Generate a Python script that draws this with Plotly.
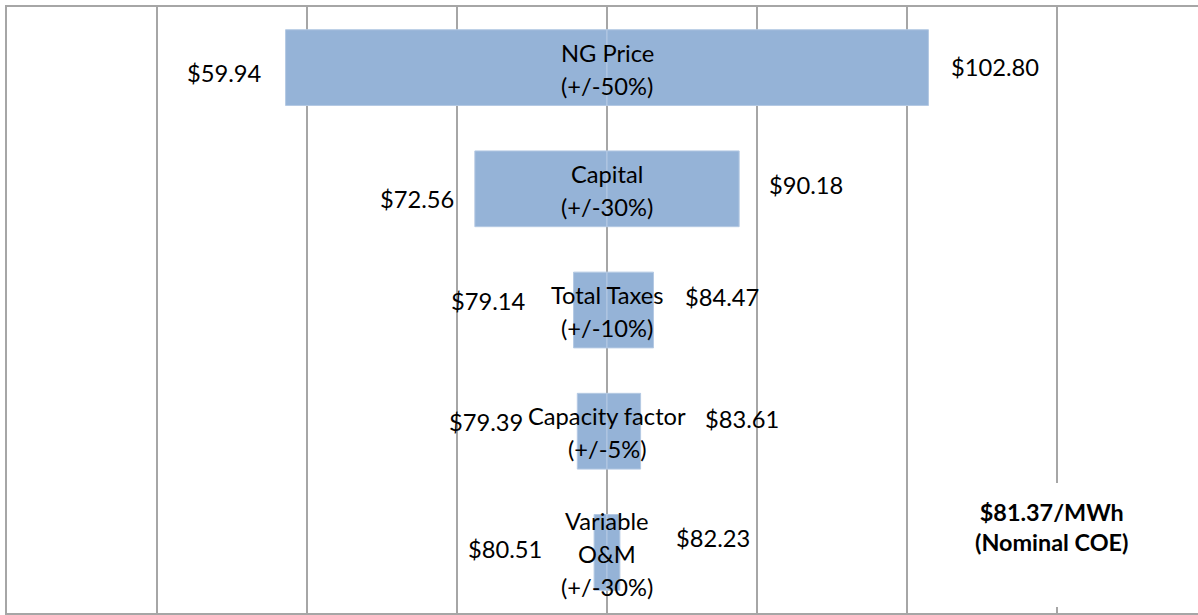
import plotly.graph_objects as go

# Sensitivity of nominal cost of electricity ($/MWh) to key inputs
base_coe = 81.37
drivers = ["NG Price", "Capital", "Total Taxes", "Capacity factor", "Variable<br>O&M"]
ranges = ["(+/-50%)", "(+/-30%)", "(+/-10%)", "(+/-5%)", "(+/-30%)"]
low_values = [59.94, 72.56, 79.14, 79.39, 80.51]
high_values = [102.80, 90.18, 84.47, 83.61, 82.23]

# label nudges in pixels: horizontal gap from the bar end, downward offset
low_gap = [22, 19, 46, 52, 50]
high_gap = [21, 28, 29, 62, 54]
low_down = [7, 12, -7.5, -7.5, -1.5]
high_down = [1, -2.5, -12, -10.5, -13]

bar_color = "#95B3D7"
edge_color = "#B4C9E3"
grid_color = "#A6A6A6"
font_family = "Lato, Carlito, Calibri, sans-serif"
label_size = 23.7
line_step = 33
name_down = 3

ypos = list(range(len(drivers)))

fig = go.Figure()
fig.add_trace(go.Bar(
    y=ypos, x=[base_coe - v for v in low_values], base=low_values,
    orientation="h", width=0.625, marker=dict(color=bar_color, line=dict(color=edge_color, width=1)),
    hoverinfo="skip", showlegend=False,
))
fig.add_trace(go.Bar(
    y=ypos, x=[v - base_coe for v in high_values], base=[base_coe] * len(drivers),
    orientation="h", width=0.625, marker=dict(color=bar_color, line=dict(color=edge_color, width=1)),
    hoverinfo="skip", showlegend=False,
))

label_font = dict(family=font_family, size=label_size, color="#000000")
annotations = []
for i in ypos:
    annotations.append(dict(
        x=low_values[i], y=i, text=f"${low_values[i]:.2f}", showarrow=False,
        xanchor="right", yanchor="middle", xshift=-low_gap[i], yshift=-(low_down[i] - 1.5),
        font=label_font,
    ))
    annotations.append(dict(
        x=high_values[i], y=i, text=f"${high_values[i]:.2f}", showarrow=False,
        xanchor="left", yanchor="middle", xshift=high_gap[i], yshift=-(high_down[i] - 1.5),
        font=label_font,
    ))
    # driver name and its range, one line at a time, centred on the base value
    lines = drivers[i].split("<br>") + [ranges[i]]
    n = len(lines)
    for k, line in enumerate(lines):
        offset = (k - (n - 1) / 2) * line_step + name_down
        annotations.append(dict(
            x=base_coe, y=i, text=line, showarrow=False,
            xanchor="center", yanchor="middle", yshift=-(offset - 1.5),
            font=label_font,
        ))

annotations.append(dict(
    xref="paper", yref="paper", x=0.8778, y=0.142,
    text=f"<b>${base_coe:.2f}/MWh</b><br><b>(Nominal COE)</b>", showarrow=False,
    xanchor="center", yanchor="middle",
    font=dict(family=font_family, size=23.4, color="#000000"),
))

fig.update_layout(
    width=1198, height=615,
    margin=dict(l=7, r=0, t=7, b=2),
    paper_bgcolor="#FFFFFF", plot_bgcolor="#FFFFFF",
    barmode="overlay",
    annotations=annotations,
    shapes=[dict(
        type="rect", xref="paper", yref="paper", x0=0.80, x1=0.951, y0=0.0099, y1=0.2145,
        fillcolor="#FFFFFF", line=dict(width=0), layer="above",
    )],
    xaxis=dict(
        range=[base_coe - 40, base_coe - 40 + 1191 / 15],
        tick0=base_coe - 40, dtick=10, showticklabels=False,
        showgrid=True, gridcolor=grid_color, gridwidth=1.5, zeroline=False,
        showline=True, mirror=True, linecolor=grid_color, linewidth=2, ticks="",
    ),
    yaxis=dict(
        range=[len(drivers) - 0.5, -0.5], showticklabels=False, showgrid=False,
        zeroline=False, showline=True, linecolor=grid_color, linewidth=2, ticks="",
    ),
)

fig.write_html("out.html")
